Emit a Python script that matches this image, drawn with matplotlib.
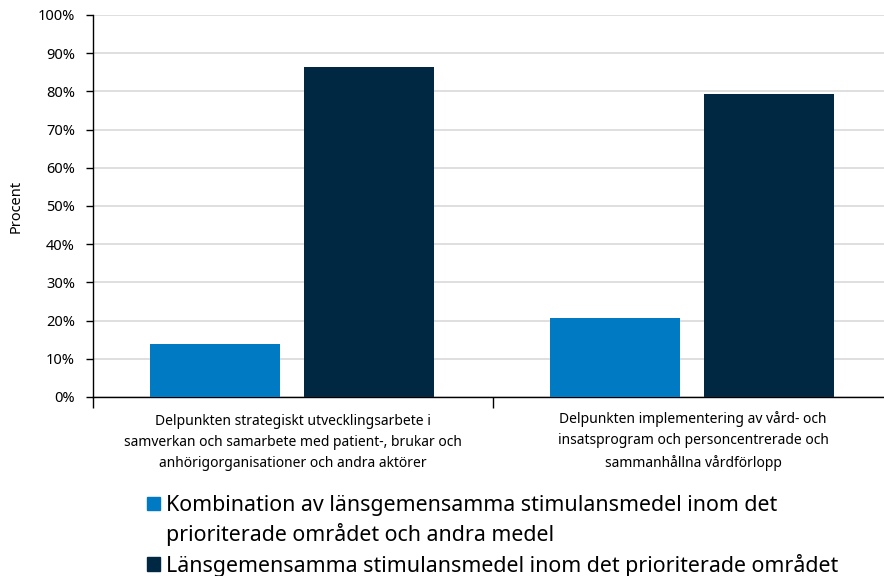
"""
Stapeldiagram: andel per delpunkt och typ av stimulansmedel
"""

import numpy as np
from matplotlib import pyplot as plt
from matplotlib.patches import Patch
from matplotlib.ticker import FixedLocator, PercentFormatter

plt.rcParams["font.family"] = ["Noto Sans", "DejaVu Sans"]

categories = [
    "Delpunkten strategiskt utvecklingsarbete i\nsamverkan och samarbete med patient-, brukar och\nanhörigorganisationer och andra aktörer",
    "Delpunkten implementering av vård- och\ninsatsprogram och personcentrerade och\nsammanhållna vårdförlopp",
]
series_names = [
    "Kombination av länsgemensamma stimulansmedel inom det\nprioriterade området och andra medel",
    "Länsgemensamma stimulansmedel inom det prioriterade området",
]
kombination = [13.8, 20.8]
lansgemensamma = [86.3, 79.2]

COLORS = ["#007ac3", "#002843"]
W = 0.325  # stapelbredd

fig = plt.figure(figsize=(8.84, 5.76), dpi=100)
ax = fig.add_axes([0.1052, 0.3108, 0.8948, 0.6632])

x = np.arange(len(categories))
for vals, off, col in zip([kombination, lansgemensamma], [-0.195, 0.19], COLORS):
    ax.bar(x + off, vals, W, color=col, zorder=3)

ax.set_ylim(0, 100)
ax.set_xlim(-0.5, 1.4775)
ax.yaxis.set_major_locator(FixedLocator(np.arange(0, 101, 10)))
ax.yaxis.set_major_formatter(PercentFormatter(decimals=0))
ax.grid(axis="y", color="#d9d9d9", linewidth=1.2, zorder=0)

ax.xaxis.set_major_locator(FixedLocator([-0.5, 0.5, 1.5]))
ax.xaxis.set_minor_locator(FixedLocator(x))
ax.set_xticklabels([], minor=False)
# baseline = sista radens baslinje, så båda etiketterna linjerar
ax.set_xticklabels(categories, minor=True, fontsize=10, linespacing=1.55, va="baseline")
ax.tick_params(axis="x", which="major", length=8, width=1)
ax.tick_params(axis="x", which="minor", length=0, pad=50.2)
ax.tick_params(axis="y", length=5, width=1, labelsize=10.5, pad=8)

for s in ["top", "right"]:
    ax.spines[s].set_visible(False)
ax.spines["left"].set_linewidth(1)
ax.spines["bottom"].set_linewidth(1)

ax.set_ylabel("Procent", fontsize=10.5, labelpad=10)

# legend: square aligned with the first text line
first, second = series_names[0].split("\n")
handles = [Patch(color=COLORS[0]), Patch(color="none"), Patch(color=COLORS[1])]
labels = [first, second, series_names[1]]
fig.legend(
    handles,
    labels,
    loc="upper left",
    bbox_to_anchor=(0.1663, 0.1405),
    frameon=False,
    fontsize=15.4,
    handlelength=0.62,
    handleheight=0.62,
    handletextpad=0.25,
    labelspacing=0.34,
    borderpad=0,
    borderaxespad=0,
)

fig.savefig("out.png", dpi=100)
